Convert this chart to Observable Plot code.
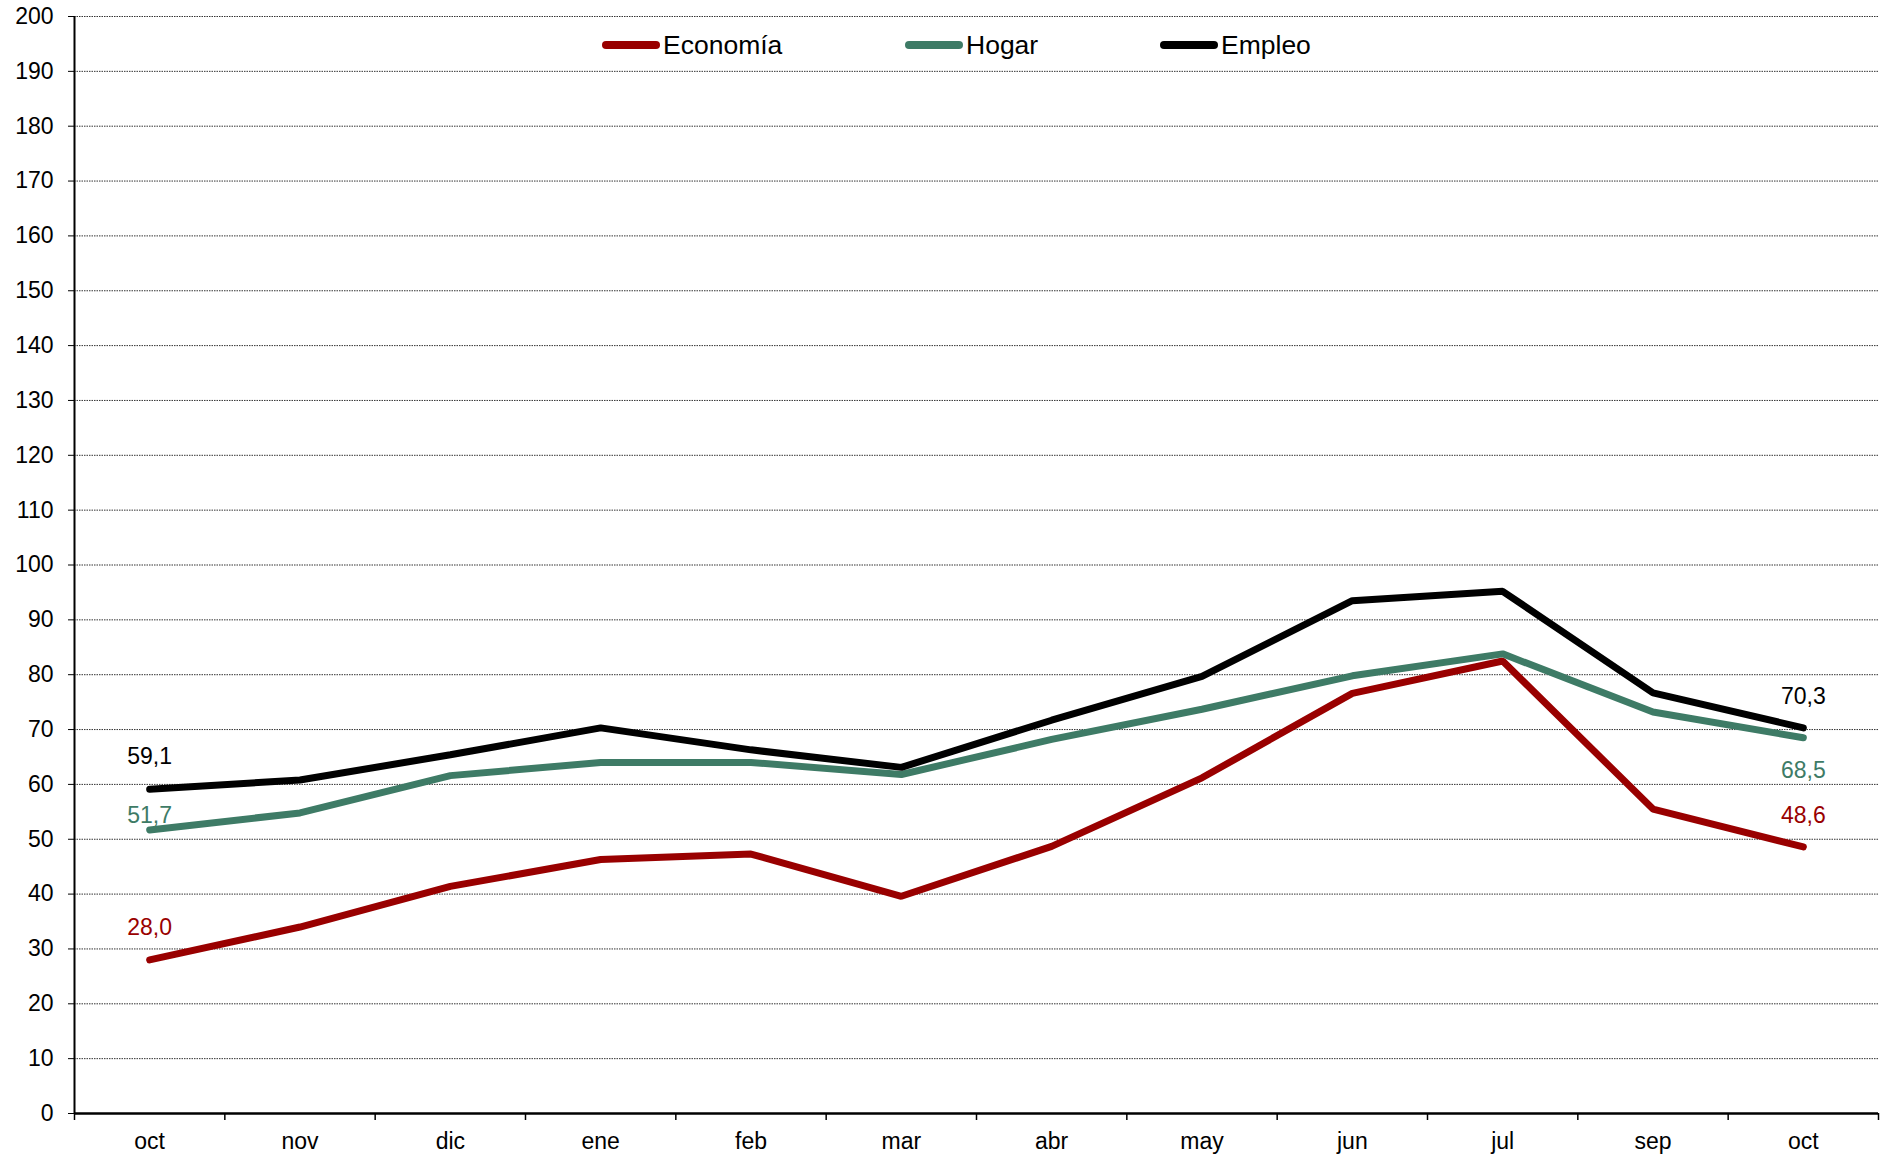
<!DOCTYPE html>
<html>
<head>
<meta charset="utf-8">
<script src="https://cdn.jsdelivr.net/npm/d3@7"></script>
<script src="https://cdn.jsdelivr.net/npm/@observablehq/plot@0.6"></script>
<style>
  html, body { margin: 0; padding: 0; background: #fff; }
  #wrap { position: relative; width: 1881px; height: 1157px; font-family: "Liberation Sans", Arial, sans-serif; }
  #legend { position: absolute; top: 28px; left: 0; width: 1881px; height: 34px; }
  .item { position: absolute; display: flex; align-items: center; height: 34px; font-size: 26.5px; color: #000; }
  .sw { display: inline-block; width: 58px; height: 8px; border-radius: 4px; margin-right: 3px; }
</style>
</head>
<body>
<div id="wrap"><div id="legend"></div></div>
<script>
const months = ["oct","nov","dic","ene","feb","mar","abr","may","jun","jul","sep","oct"];
const economia = [28.0, 34.0, 41.4, 46.3, 47.3, 39.6, 48.7, 61.2, 76.6, 82.5, 55.5, 48.6];
const hogar    = [51.7, 54.8, 61.6, 64.0, 64.0, 61.8, 68.2, 73.7, 79.8, 83.8, 73.2, 68.5];
const empleo   = [59.1, 60.8, 65.4, 70.3, 66.3, 63.1, 71.7, 79.7, 93.5, 95.2, 76.7, 70.3];
const seriesNames = ["Economía", "Hogar", "Empleo"];
const seriesColors = ["#990000", "#3e7b66", "#000000"];
const yTicks = d3.range(0, 201, 10);

const seriesValues = [economia, hogar, empleo];
const rows = [];
seriesValues.forEach((vals, s) => vals.forEach((v, i) => rows.push({serie: seriesNames[s], i, v})));
const fmt = v => v.toFixed(1).replace(".", ",");

// first/last point labels: [series index, point index, dy]
const labelSpecs = [
  [2, 0, -33], [1, 0, -14], [0, 0, -32],
  [2, 11, -31], [1, 11, 33], [0, 11, -31]
];
const labelMarks = labelSpecs.map(([s, i, dy]) =>
  Plot.text([{i, v: seriesValues[s][i]}], {
    x: "i", y: "v", text: d => fmt(d.v), dy,
    fill: seriesColors[s], fontSize: 23
  })
);

const chart = Plot.plot({
  width: 1881,
  height: 1157,
  marginLeft: 74,
  marginRight: 3,
  marginTop: 16,
  marginBottom: 44,
  style: {fontFamily: "'Liberation Sans', Arial, sans-serif", fontSize: "23px", color: "#000", background: "#fff"},
  x: {type: "linear", domain: [-0.5, 11.5], axis: null, label: null},
  y: {domain: [0, 200], axis: null, label: null},
  color: {domain: seriesNames, range: seriesColors},
  marks: [
    Plot.gridY(yTicks, {stroke: "#333", strokeOpacity: 1, strokeWidth: 1, strokeDasharray: "1.5,1"}),
    Plot.axisY({ticks: yTicks, tickSize: 6, tickPadding: 15, fontSize: 23, tickFormat: d => d, label: null}),
    Plot.axisX({ticks: d3.range(13).map(i => i - 0.5), tickSize: 7, tickFormat: () => "", strokeWidth: 1.5, label: null}),
    Plot.axisX({ticks: d3.range(12), tickSize: 0, tickPadding: 19, fontSize: 23, tickFormat: i => months[i], label: null}),
    Plot.ruleX([-0.5], {strokeWidth: 2}),
    Plot.ruleY([0], {strokeWidth: 2.5}),
    Plot.line(rows, {x: "i", y: "v", z: "serie", stroke: "serie", strokeWidth: 7, strokeLinejoin: "miter", strokeLinecap: "round"}),
    ...labelMarks
  ]
});
document.getElementById("wrap").prepend(chart);

// legend overlay
const legendLefts = [602, 905, 1160];
const legend = document.getElementById("legend");
seriesNames.forEach((name, k) => {
  const it = document.createElement("div");
  it.className = "item";
  it.style.left = legendLefts[k] + "px";
  it.innerHTML = `<span class="sw" style="background:${seriesColors[k]}"></span><span>${name}</span>`;
  legend.appendChild(it);
});
</script>
</body>
</html>
